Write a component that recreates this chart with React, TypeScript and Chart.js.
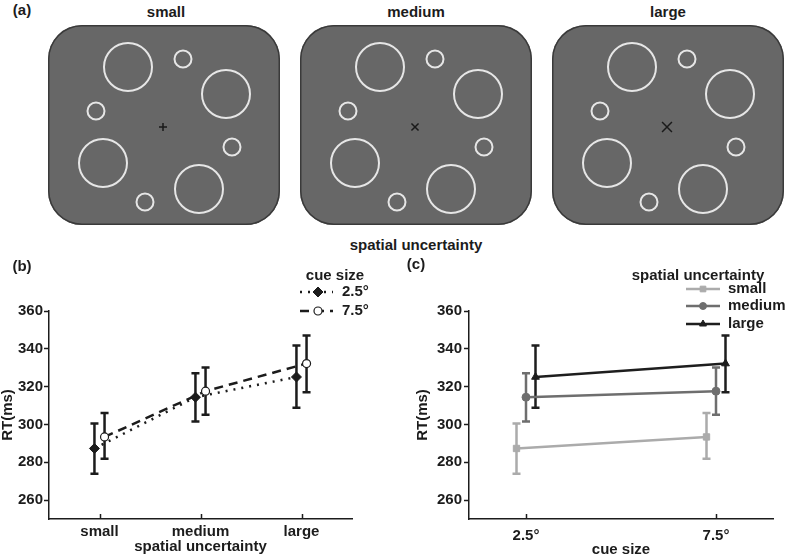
import React, { useEffect, useRef } from 'react';
import { Chart, registerables } from 'chart.js';
import { drawPoint } from 'chart.js/helpers';

Chart.register(...registerables);

const FONT = '"Liberation Sans", Arial, Helvetica, sans-serif';
const INK = '#1c1c1c';

// ---------- Panel (a): stimulus displays ----------
const conditionLabels = ['small', 'medium', 'large'];
const stimX = [-36, 19, 62, -68, -61, 68, -19, 35];
const stimY = [58, 66, 31, 14, -38, -22, -77, -64];
const stimR = [24, 8.5, 24, 8.5, 24, 8.5, 8.5, 24];
const fixationX = [-1];
const fixationY = [-2];
const fixationStyle = ['cross', 'crossRot', 'crossRot'];
const fixationSize = [4, 5, 7];

// ---------- Panels (b) and (c): RT data ----------
const uncertaintyLabels = ['small', 'medium', 'large'];
const cueLabels = ['2.5°', '7.5°'];
const rtCue25 = [287.3, 314.4, 325.1];
const rtCue25Low = [273.9, 301.5, 308.8];
const rtCue25High = [300.5, 327.1, 341.7];
const rtCue75 = [293.4, 317.6, 332.2];
const rtCue75Low = [281.8, 305.1, 317.0];
const rtCue75High = [306.0, 330.1, 347.0];
const yTicks = [260, 280, 300, 320, 340, 360];

const tickFont = { family: FONT, size: 15, weight: 'bold' as const };

function errorBarPlugin(capHalf: number, width: number) {
  return {
    id: 'errorBars',
    beforeDatasetsDraw(chart: any) {
      const ctx = chart.ctx;
      const ys = chart.scales.y;
      chart.data.datasets.forEach((ds: any, i: number) => {
        if (!ds.errLow) return;
        const meta = chart.getDatasetMeta(i);
        ctx.save();
        ctx.strokeStyle = ds.errColor;
        ctx.lineWidth = width;
        ctx.setLineDash([]);
        meta.data.forEach((el: any, j: number) => {
          const x = el.x;
          const y1 = ys.getPixelForValue(ds.errLow[j]);
          const y2 = ys.getPixelForValue(ds.errHigh[j]);
          ctx.beginPath();
          ctx.moveTo(x, y1);
          ctx.lineTo(x, y2);
          ctx.moveTo(x - capHalf, y1);
          ctx.lineTo(x + capHalf, y1);
          ctx.moveTo(x - capHalf, y2);
          ctx.lineTo(x + capHalf, y2);
          ctx.stroke();
        });
        ctx.restore();
      });
    },
  };
}

const innerXTicks = {
  id: 'innerXTicks',
  afterDraw(chart: any) {
    const ctx = chart.ctx;
    const xs = chart.scales.x;
    const bottom = chart.chartArea.bottom;
    ctx.save();
    ctx.strokeStyle = INK;
    ctx.lineWidth = 1.5;
    ctx.beginPath();
    xs.ticks.forEach((t: any) => {
      const px = Math.round(xs.getPixelForValue(t.value)) + 0.5;
      ctx.moveTo(px, bottom);
      ctx.lineTo(px, bottom - 5);
    });
    ctx.stroke();
    ctx.restore();
  },
};

type LegendItem = {
  label: string;
  color: string;
  dash: number[];
  pointStyle: string;
  radius: number;
  fill: string;
  borderWidth: number;
};

function legendPlugin(cfg: {
  title: string;
  titleX: number;
  titleY: number;
  x0: number;
  x1: number;
  mx: number;
  tx: number;
  ys: number[];
  items: LegendItem[];
}) {
  return {
    id: 'customLegend',
    afterDraw(chart: any) {
      const ctx = chart.ctx;
      ctx.save();
      ctx.font = `bold 15px ${FONT}`;
      ctx.fillStyle = INK;
      ctx.textBaseline = 'middle';
      ctx.textAlign = 'center';
      ctx.fillText(cfg.title, cfg.titleX, cfg.titleY);
      cfg.items.forEach((it, i) => {
        const y = cfg.ys[i];
        ctx.strokeStyle = it.color;
        ctx.lineWidth = 2.5;
        ctx.setLineDash(it.dash);
        ctx.beginPath();
        ctx.moveTo(cfg.x0, y);
        ctx.lineTo(cfg.x1, y);
        ctx.stroke();
        ctx.setLineDash([]);
        ctx.fillStyle = it.fill;
        ctx.strokeStyle = it.color;
        ctx.lineWidth = it.borderWidth;
        drawPoint(ctx, { pointStyle: it.pointStyle as any, radius: it.radius, rotation: 0, borderWidth: it.borderWidth }, cfg.mx, y);
        ctx.fillStyle = INK;
        ctx.textAlign = 'left';
        ctx.fillText(it.label, cfg.tx, y);
      });
      ctx.restore();
    },
  };
}

function ChartCanvas(props: { left: number; top: number; width: number; height: number; build: () => any }) {
  const ref = useRef<HTMLCanvasElement>(null);
  useEffect(() => {
    const chart = new Chart(ref.current as HTMLCanvasElement, props.build());
    return () => chart.destroy();
  }, []);
  return (
    <canvas
      ref={ref}
      width={props.width}
      height={props.height}
      style={{ position: 'absolute', left: props.left, top: props.top, width: props.width, height: props.height }}
    />
  );
}

function Label(props: { x: number; y: number; text: string; size?: number }) {
  return (
    <div
      style={{
        position: 'absolute',
        left: props.x,
        top: props.y,
        transform: 'translate(-50%, -50%)',
        whiteSpace: 'nowrap',
        fontFamily: FONT,
        fontWeight: 'bold',
        fontSize: props.size ?? 15,
        lineHeight: 1,
        color: INK,
      }}
    >
      {props.text}
    </div>
  );
}

function buildStimulus(idx: number) {
  return () => ({
    type: 'bubble',
    data: {
      datasets: [
        {
          data: stimX.map((x, i) => ({ x, y: stimY[i], r: stimR[i] })),
          backgroundColor: 'rgba(0,0,0,0)',
          borderColor: '#e6e6e6',
          borderWidth: 2,
          hoverRadius: 0,
        },
        {
          type: 'scatter',
          data: fixationX.map((x, i) => ({ x, y: fixationY[i] })),
          pointStyle: fixationStyle[idx],
          pointRadius: fixationSize[idx],
          borderColor: '#1a1a1a',
          backgroundColor: '#1a1a1a',
          borderWidth: 1.5,
        },
      ],
    },
    options: {
      animation: false,
      responsive: false,
      events: [],
      layout: { autoPadding: false, padding: 0 },
      scales: {
        x: { type: 'linear', display: false, min: -116, max: 116 },
        y: { type: 'linear', display: false, min: -100, max: 100 },
      },
      plugins: { legend: { display: false }, tooltip: { enabled: false } },
    },
  });
}

function yScale(width: number, labelPad: number) {
  return {
    type: 'linear',
    min: 250,
    max: 360,
    afterBuildTicks: (s: any) => {
      s.ticks = yTicks.map((v) => ({ value: v }));
    },
    afterFit: (s: any) => {
      s.width = width;
    },
    grid: { drawOnChartArea: false, drawTicks: true, tickLength: 5, tickColor: INK, tickWidth: 1.5 },
    border: { display: true, color: INK, width: 1.5 },
    ticks: { color: INK, font: tickFont, padding: labelPad },
    title: {
      display: true,
      text: 'RT(ms)',
      color: INK,
      font: { family: FONT, size: 15, weight: 'bold', lineHeight: 1 },
      padding: 0,
    },
  };
}

function buildPanelB() {
  const offs = [-0.05, 0.05];
  return {
    type: 'line',
    data: {
      datasets: [
        {
          label: '2.5°',
          data: rtCue25.map((y, i) => ({ x: i + offs[0], y })),
          errLow: rtCue25Low,
          errHigh: rtCue25High,
          errColor: INK,
          borderColor: INK,
          borderWidth: 2.5,
          borderDash: [2, 6],
          fill: false,
          pointStyle: 'rectRot',
          pointRadius: 5,
          pointBackgroundColor: INK,
          pointBorderColor: INK,
          pointBorderWidth: 1,
        },
        {
          label: '7.5°',
          data: rtCue75.map((y, i) => ({ x: i + offs[1], y })),
          errLow: rtCue75Low,
          errHigh: rtCue75High,
          errColor: INK,
          borderColor: INK,
          borderWidth: 2.5,
          borderDash: [9, 6],
          fill: false,
          pointStyle: 'circle',
          pointRadius: 4,
          pointBackgroundColor: '#ffffff',
          pointBorderColor: INK,
          pointBorderWidth: 1.2,
        },
      ],
    },
    options: {
      animation: false,
      responsive: false,
      events: [],
      layout: { autoPadding: false, padding: { left: 0, top: 61, right: 38, bottom: 0 } },
      scales: {
        x: {
          type: 'linear',
          min: -0.5,
          max: 2.5,
          afterBuildTicks: (s: any) => {
            s.ticks = uncertaintyLabels.map((_, i) => ({ value: i }));
          },
          afterFit: (s: any) => {
            s.height = 37;
          },
          grid: { display: false, drawTicks: false },
          border: { display: true, color: INK, width: 1.5 },
          ticks: {
            color: INK,
            font: tickFont,
            padding: 4,
            autoSkip: false,
            maxRotation: 0,
            callback: (v: any) => uncertaintyLabels[v as number],
          },
          title: {
            display: true,
            text: 'spatial uncertainty',
            color: INK,
            font: { family: FONT, size: 15, weight: 'bold', lineHeight: 1.2 },
            padding: 0,
          },
        },
        y: yScale(49, 1),
      },
      plugins: { legend: { display: false }, tooltip: { enabled: false } },
    },
    plugins: [
      errorBarPlugin(4, 2.5),
      innerXTicks,
      legendPlugin({
        title: 'cue size',
        titleX: 335,
        titleY: 26,
        x0: 300,
        x1: 333,
        mx: 318,
        tx: 342,
        ys: [42, 61],
        items: [
          { label: '2.5°', color: INK, dash: [2, 6], pointStyle: 'rectRot', radius: 5, fill: INK, borderWidth: 1 },
          { label: '7.5°', color: INK, dash: [9, 6], pointStyle: 'circle', radius: 4, fill: '#ffffff', borderWidth: 1.2 },
        ],
      }),
    ],
  };
}

function buildPanelC() {
  const offs = [-0.05, 0, 0.05];
  const colors = ['#ababab', '#6e6e6e', '#1e1e1e'];
  const styles = ['rect', 'circle', 'triangle'];
  const radii = [4.5, 4, 4.5];
  const means = uncertaintyLabels.map((_, k) => [rtCue25[k], rtCue75[k]]);
  const lows = uncertaintyLabels.map((_, k) => [rtCue25Low[k], rtCue75Low[k]]);
  const highs = uncertaintyLabels.map((_, k) => [rtCue25High[k], rtCue75High[k]]);
  return {
    type: 'line',
    data: {
      datasets: uncertaintyLabels.map((lab, k) => ({
        label: lab,
        data: means[k].map((y, i) => ({ x: i + offs[k], y })),
        errLow: lows[k],
        errHigh: highs[k],
        errColor: colors[k],
        borderColor: colors[k],
        borderWidth: 2.5,
        fill: false,
        pointStyle: styles[k],
        pointRadius: radii[k],
        pointBackgroundColor: colors[k],
        pointBorderColor: colors[k],
        pointBorderWidth: 1,
      })),
    },
    options: {
      animation: false,
      responsive: false,
      events: [],
      layout: { autoPadding: false, padding: { left: 25, top: 61, right: 14, bottom: 0 } },
      scales: {
        x: {
          type: 'linear',
          min: -0.3,
          max: 1.3,
          afterBuildTicks: (s: any) => {
            s.ticks = cueLabels.map((_, i) => ({ value: i }));
          },
          afterFit: (s: any) => {
            s.height = 37;
          },
          grid: { display: false, drawTicks: false },
          border: { display: true, color: INK, width: 1.5 },
          ticks: {
            color: INK,
            font: tickFont,
            padding: 8,
            autoSkip: false,
            maxRotation: 0,
            callback: (v: any) => cueLabels[v as number],
          },
          title: {
            display: true,
            text: 'cue size',
            color: INK,
            font: { family: FONT, size: 15, weight: 'bold', lineHeight: 0.8 },
            padding: 0,
          },
        },
        y: yScale(54, 2),
      },
      plugins: { legend: { display: false }, tooltip: { enabled: false } },
    },
    plugins: [
      errorBarPlugin(4, 2.5),
      innerXTicks,
      legendPlugin({
        title: 'spatial uncertainty',
        titleX: 308,
        titleY: 26,
        x0: 296,
        x1: 330,
        mx: 313,
        tx: 338,
        ys: [39, 56, 74],
        items: uncertaintyLabels.map((lab, k) => ({
          label: lab,
          color: colors[k],
          dash: [],
          pointStyle: styles[k],
          radius: radii[k] - 0.5,
          fill: colors[k],
          borderWidth: 1,
        })),
      }),
    ],
  };
}

function StimulusPanel(props: { idx: number; left: number }) {
  return (
    <div
      style={{
        position: 'absolute',
        left: props.left,
        top: 25,
        width: 232,
        height: 200,
        background: '#676767',
        borderRadius: 34,
        boxShadow: 'inset 0 0 0 1.5px #3a3a3a',
        overflow: 'hidden',
      }}
    >
      <ChartCanvas left={0} top={0} width={232} height={200} build={buildStimulus(props.idx)} />
    </div>
  );
}

export default function App() {
  const rectLefts = [48, 300, 552];
  const titleXs = [166, 416, 668];
  return (
    <div
      style={{
        position: 'absolute',
        left: 0,
        top: 0,
        width: 787,
        height: 556,
        overflow: 'hidden',
        background: '#ffffff',
        fontFamily: FONT,
      }}
    >
      <Label x={22} y={9} text="(a)" />
      {conditionLabels.map((c, i) => (
        <Label key={c} x={titleXs[i]} y={11} text={c} />
      ))}
      {conditionLabels.map((c, i) => (
        <StimulusPanel key={c} idx={i} left={rectLefts[i]} />
      ))}
      <Label x={416} y={244} text="spatial uncertainty" />
      <ChartCanvas left={0} top={250} width={390} height={306} build={buildPanelB} />
      <ChartCanvas left={390} top={250} width={397} height={306} build={buildPanelC} />
      <Label x={22} y={265} text="(b)" />
      <Label x={416} y={263} text="(c)" />
    </div>
  );
}
